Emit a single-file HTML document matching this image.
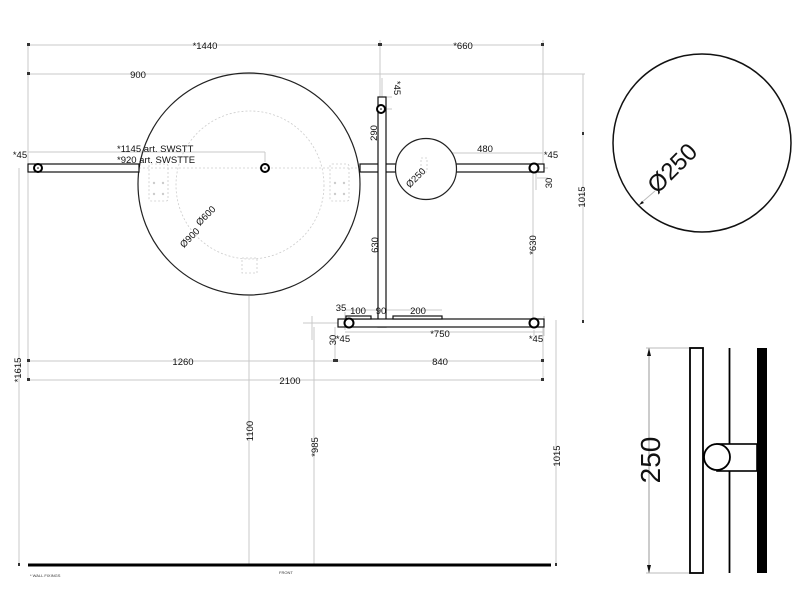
<!DOCTYPE html>
<html><head><style>
html,body{margin:0;padding:0;background:#fff;}
svg{display:block;font-family:"Liberation Sans",Arial,sans-serif;}
.d{stroke:#c8c8c8;stroke-width:1;fill:none}
.o{stroke:#111;stroke-width:1.2;fill:#fff}
.t{font-size:9.5px;fill:#111}
.dot{stroke:#ccc;stroke-width:0.8;fill:none;stroke-dasharray:2 2}
</style></head><body>
<svg width="800" height="600" viewBox="0 0 800 600" xmlns="http://www.w3.org/2000/svg">
<path class="d" d="M28 45H543 M380 40V320 M543 40V170 M28 74H585 M583 74V323 M28 45V380 M19 168V565 M556 320V565 M28 361H543 M28 380H543 M335 327V361 M543 327V380 M249 296V565 M314 327V565 M28 168V160 M28 152H265 M265 152V162 M382 78V97 M386 97H392 M386 109H392 M400 153H543 M537 178H548 M537 168H548 M536 173V190 M303 323H338 M312 316V340 M345 332H544 M345 312V330 M534 330V336 M544 316V336 M346 310H442 M533 168V323"/>
<g fill="#333">
<rect x="27" y="43" width="3" height="3"/><rect x="541" y="43" width="3" height="3"/><rect x="378" y="43" width="4" height="3"/>
<rect x="27" y="72" width="3" height="3"/><rect x="582" y="132" width="2" height="3"/><rect x="582" y="320" width="2" height="3"/>
<rect x="27" y="359" width="3" height="3"/><rect x="27" y="378" width="3" height="3"/><rect x="541" y="359" width="3" height="3"/><rect x="541" y="378" width="3" height="3"/><rect x="333" y="359" width="5" height="3"/>
<rect x="18" y="563" width="2" height="3"/><rect x="555" y="563" width="2" height="3"/>
</g>
<circle cx="249" cy="184" r="111" fill="none" stroke="#222" stroke-width="1.2"/>
<circle cx="250" cy="185" r="74" class="dot"/>
<line x1="139" y1="168" x2="360" y2="168" class="dot"/>
<rect x="149" y="164" width="19" height="37" rx="2" class="dot"/>
<rect x="330" y="164" width="19" height="37" rx="2" class="dot"/>
<rect x="242" y="258" width="15" height="15" class="dot"/>
<g fill="#ccc"><circle cx="154" cy="183" r="1.2"/><circle cx="163" cy="183" r="1.2"/><circle cx="154" cy="194" r="1.2"/><circle cx="163" cy="194" r="1.2"/><circle cx="335" cy="183" r="1.2"/><circle cx="344" cy="183" r="1.2"/><circle cx="335" cy="194" r="1.2"/><circle cx="344" cy="194" r="1.2"/></g>
<rect x="28" y="164" width="111" height="8" class="o"/>
<rect x="360" y="164" width="37" height="8" class="o"/>
<rect x="456" y="164" width="88" height="8" class="o"/>
<rect x="378" y="97" width="8" height="230" class="o"/>
<rect x="338" y="319" width="206" height="8" class="o"/>
<rect x="346" y="316" width="25" height="3" class="o" stroke-width="0.8"/>
<rect x="393" y="316" width="49" height="3" class="o" stroke-width="0.8"/>
<circle cx="426" cy="169" r="30.5" fill="#fff" stroke="#222" stroke-width="1.2"/>
<rect x="421" y="158" width="6" height="14" class="dot"/>
<g fill="#fff" stroke="#000" stroke-width="2">
<circle cx="38" cy="168" r="4"/><circle cx="265" cy="168" r="4"/><circle cx="381" cy="109" r="4"/>
<circle cx="534" cy="168" r="4.5"/><circle cx="349" cy="323" r="4.5"/><circle cx="534" cy="323" r="4.5"/></g>
<g fill="#000"><circle cx="38" cy="168" r="0.8"/><circle cx="265" cy="168" r="0.8"/><circle cx="381" cy="109" r="0.8"/></g>
<g class="t" text-anchor="middle">
<text x="205" y="49">*1440</text>
<text x="463" y="49">*660</text>
<text x="138" y="78">900</text>
<text x="20" y="158">*45</text>
<text x="117" y="152" text-anchor="start">*1145 art. SWSTT</text>
<text x="117" y="163" text-anchor="start">*920 art. SWSTTE</text>
<text x="485" y="152">480</text>
<text x="551" y="158">*45</text>
<text x="183" y="365">1260</text>
<text x="440" y="365">840</text>
<text x="290" y="384">2100</text>
<text x="341" y="311">35</text>
<text x="358" y="314">100</text>
<text x="381" y="314">90</text>
<text x="418" y="314">200</text>
<text x="440" y="337">*750</text>
<text x="343" y="342">*45</text>
<text x="536" y="342">*45</text>
<text transform="translate(394,88) rotate(90)">*45</text>
<text transform="translate(377,133) rotate(-90)">290</text>
<text transform="translate(378,245) rotate(-90)">630</text>
<text transform="translate(536,245) rotate(-90)">*630</text>
<text transform="translate(552,183) rotate(-90)">30</text>
<text transform="translate(336,340) rotate(-90)">30</text>
<text transform="translate(585,197) rotate(-90)">1015</text>
<text transform="translate(21,370) rotate(-90)">*1615</text>
<text transform="translate(253,431) rotate(-90)">1100</text>
<text transform="translate(318,447) rotate(-90)">*985</text>
<text transform="translate(560,456) rotate(-90)">1015</text>
<text transform="translate(192,240) rotate(-45)">Ø900</text>
<text transform="translate(208,218) rotate(-45)">Ø600</text>
<text transform="translate(418,180) rotate(-45)">Ø250</text>
</g>
<text x="30" y="577" font-size="4" fill="#333">* WALL FIXINGS</text>
<text x="279" y="574" font-size="4" fill="#333">FRONT</text>
<line x1="28" y1="565" x2="551" y2="565" stroke="#000" stroke-width="3"/>
<circle cx="702" cy="143" r="89" fill="none" stroke="#111" stroke-width="1.5"/>
<line x1="641" y1="203" x2="655" y2="191" stroke="#bbb"/>
<path d="M639 205l5-2-2-2z" fill="#111"/>
<text transform="translate(678,174) rotate(-45)" text-anchor="middle" font-size="24" fill="#111">Ø250</text>
<line x1="649" y1="348" x2="649" y2="573" stroke="#999"/>
<line x1="646" y1="348" x2="690" y2="348" stroke="#bbb"/>
<line x1="646" y1="573" x2="690" y2="573" stroke="#bbb"/>
<path d="M649 348l-2 8h4z M649 573l-2-8h4z" fill="#111"/>
<text transform="translate(660,460) rotate(-90)" text-anchor="middle" font-size="28" fill="#111">250</text>
<rect x="690" y="348" width="13" height="225" fill="#fff" stroke="#000" stroke-width="1.8"/>
<line x1="729.5" y1="348" x2="729.5" y2="573" stroke="#000" stroke-width="1.8"/>
<rect x="757" y="348" width="10" height="225" fill="#000"/>
<rect x="717" y="444" width="40" height="27" fill="#fff" stroke="#000" stroke-width="1.6"/>
<circle cx="717" cy="457" r="13" fill="#fff" stroke="#000" stroke-width="1.8"/>
</svg>
</body></html>
